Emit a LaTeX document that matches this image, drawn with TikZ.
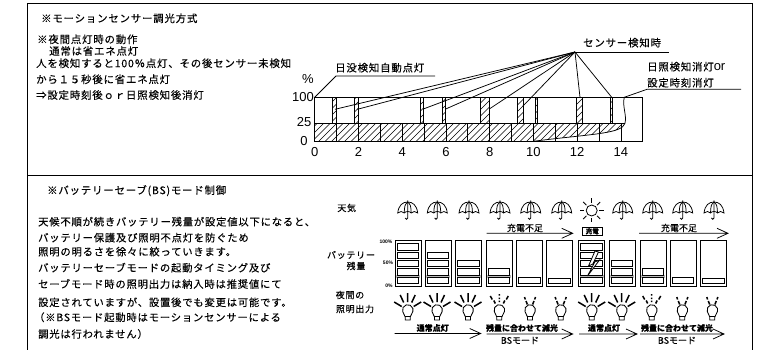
\documentclass[tikz,border=0pt]{standalone}
\usepackage{fontspec}
\newfontfamily\jp[LetterSpace=8,FakeBold=0.25]{Noto Sans CJK JP}
\newfontfamily\jpt[FakeBold=0.2]{Noto Sans CJK JP}
\newfontfamily\latn{Liberation Sans}
\tikzset{
  frameline/.style={line width=1pt,black},
  thin line/.style={line width=0.75pt,black},
  hatchline/.style={line width=0.7pt,black},
  body/.style={anchor=west,inner sep=0pt,font=\jp\fontsize{10.4}{12}\selectfont},
  lower/.style={anchor=west,inner sep=0pt,font=\jp\fontsize{10.3}{12}\selectfont},
  axis/.style={inner sep=0pt,font=\latn\fontsize{13}{14}\selectfont},
  tiny/.style={inner sep=0pt,font=\jpt\bfseries\fontsize{8}{9}\selectfont},
  tinypct/.style={inner sep=0pt,font=\latn\bfseries\fontsize{5}{6}\selectfont},
  side/.style={inner sep=0pt,font=\jp\fontsize{9}{11}\selectfont},
  openarrow/.style={line width=0.75pt,black},
  umbrella/.pic={
    \draw[line width=0.75pt] (-10,11) .. controls (-9,3) and (-5,0) .. (0,0) .. controls (5,0) and (9,3) .. (10,11)
      .. controls (8,9) and (5,9) .. (3.5,11) .. controls (2,9) and (-2,9) .. (-3.5,11)
      .. controls (-5,9) and (-8,9) .. cycle;
    \draw[line width=0.75pt] (0,0) .. controls (-3,3) .. (-3.5,11) (0,0) .. controls (3,3) .. (3.5,11);
    \draw[line width=0.85pt] (0,-1.5) -- (0,16) arc[start angle=0,end angle=180,radius=1.3];
  },
  bulb/.pic={
    \draw[line width=0.85pt] (-2.5,10) -- (-2.5,7) -- (-5,1.5) arc[start angle=163,end angle=377,radius=5.3] -- (2.5,7) -- (2.5,10) -- cycle;
    \draw[line width=0.85pt] (-3,6.5) -- (3,6.5);
  },
  ray/.style={line width=1.5pt,line cap=butt},
  fullrays/.pic={
    \draw[ray] (0,-17)--(0,-8) (-7.5,-15)--(-4,-7.5) (7.5,-15)--(4,-7.5) (-13.5,-8)--(-6,-3.5) (13.5,-8)--(6,-3.5);
  },
  midrays/.pic={
    \draw[ray] (0,-16)--(0,-14.5) (0,-12.5)--(0,-11) (0,-9.5)--(0,-8) (-9,-14)--(-7,-10.5) (-5.5,-9.5)--(-4,-6.5) (9,-14)--(7,-10.5) (5.5,-9.5)--(4,-6.5);
  },
  lowrays/.pic={
    \draw[ray] (-5.5,-13)--(-4.7,-10.5) (-4,-9)--(-2.6,-5.5) (5.5,-13)--(4.7,-10.5) (4,-9)--(2.6,-5.5);
  },
}
\newcommand{\hatchin}[1]{\begin{scope}\clip #1;
  \foreach \k in {0,...,60} \draw[hatchline] ({262+6.5*\k},146) -- ({262+6.5*\k+52},94);
  \end{scope}}
\newcommand{\barat}[2]{\hatchin{(#1,97.3) rectangle (#2,123.3)}
  \draw[thin line] (#1,97.3) -- (#1,123.3) (#2,97.3) -- (#2,123.3);}
\newcommand{\cell}[3]{\draw[line width=0.7pt,fill=white] (#1+2,#2) rectangle (#1+23.5,#3);}
\newcommand{\battery}[2]{%
  \draw[line width=0.9pt] (#1,240.7) rectangle ++(26,46);
  \ifnum#2>1 \fill[gray!55] (#1+1,275) rectangle (#1+25,277.5);\fi
  \ifnum#2=0 \cell{#1}{278.7}{283.3}\fi
  \ifnum#2>0 \cell{#1}{277.3}{283.3}\fi
  \ifnum#2>1 \cell{#1}{268.3}{275.2}\fi
  \ifnum#2>2 \cell{#1}{260.3}{266.3}\fi
  \ifnum#2>3 \cell{#1}{252.3}{258.3}\fi
  \ifnum#2>4 \cell{#1}{243.3}{250}\fi
}
\begin{document}
\begin{tikzpicture}[x=1pt,y=-1pt]
\useasboundingbox (0,0) rectangle (772,350);
% frame
\draw[frameline] (27.5,350) -- (27.5,3.5) -- (752.5,3.5) -- (752.5,350);
\draw[frameline] (27.5,176) -- (752.5,176);
% upper text
\node[body] (t1) at (41,18.3) {※モーションセンサー調光方式};
\node[body] (t2) at (37,39.3) {※夜間点灯時の動作};
\node[body] (t3) at (49,51) {通常は省エネ点灯};
\node[body] (t4) at (36,63.3) {人を検知すると100％点灯、その後センサー未検知};
\node[body] (t5) at (36,79.3) {から１５秒後に省エネ点灯};
\node[body] (t6) at (36,95) {⇒設定時刻後ｏｒ日照検知後消灯};
% chart fill
\hatchin{(314.7,123.3) -- (625,123.3) .. controls (622,134) and (590,134) .. (533.3,141.3) -- (314.7,141.3) -- cycle}
\barat{332.7}{336}
\barat{354.7}{358.3}
\barat{420.3}{423.7}
\barat{442.7}{445.7}
\barat{480.7}{489.3}
\barat{517.7}{523.3}
\barat{535.3}{537.3}
\barat{576.7}{582.7}
\barat{610.3}{612.7}
\draw[thin line] (314.7,97.3) rectangle (642.7,141.3);
\draw[thin line] (314.7,123.3) -- (625,123.3);
\draw[thin line] (533.3,141.3) .. controls (590,134) and (622,134) .. (625,123.3)
  .. controls (627,115) and (622,106) .. (624.3,97.3);
\foreach \h in {1,...,14} \draw[thin line] ({314.7+21.87*\h},123.3) -- ({314.7+21.87*\h},141.3);
% axis labels
\node[axis] (pct) at (308,79) {\%};
\node[axis] (y100) at (303,96.7) {100};
\node[axis] (y25) at (304,122) {25};
\node[axis] (y0) at (304,140.7) {0};
\foreach \h in {0,2,...,14} \node[axis] (x\h) at ({314.7+21.87*\h},151.7) {\h};
% sensor
\node[body] (sens) at (583,42.7) {センサー検知時};
\coordinate (apex) at (575,52);
\coordinate (sensend) at (669,52);
\draw[thin line] (apex) -- (sensend);
\foreach \n/\a/\b in {a/335/109.3,b/357.3/109.3,c/423.3/109,d/445.7/109,e/489.3/109,f/523/106,g/580/97.3,h/611.7/97.3} {
  \coordinate (s\n) at (\a,\b);
  \draw[thin line] (apex) -- (s\n);
}
\node[body] (dusk) at (335,67.7) {日没検知自動点灯};
\coordinate (duskA) at (314.7,97.3);
\coordinate (duskB) at (336,76);
\coordinate (duskC) at (435,76);
\draw[thin line] (duskA) -- (duskB) -- (duskC);
\node[body] (dawn) at (647,66.7) {日照検知消灯{\latn\fontsize{13}{14}\selectfont or}};
\node[body] (time) at (647,82.7) {設定時刻消灯};
\coordinate (dawnA) at (624.3,97.3);
\coordinate (dawnB) at (647,89.3);
\coordinate (dawnC) at (741,89.3);
\draw[thin line] (dawnA) -- (dawnB) -- (dawnC);
% lower text
\node[body] (b0) at (47,190.7) {※バッテリーセーブ(BS)モード制御};
\node[lower] (b1) at (38,221.7) {天候不順が続きバッテリー残量が設定値以下になると、};
\node[lower] (b2) at (38,237.7) {バッテリー保護及び照明不点灯を防ぐため};
\node[lower] (b3) at (38,251.7) {照明の明るさを徐々に絞っていきます。};
\node[lower] (b4) at (38,267.7) {バッテリーセーブモードの起動タイミング及び};
\node[lower] (b5) at (38,284) {セーブモード時の照明出力は納入時は推奨値にて};
\node[lower] (b6) at (38,302.3) {設定されていますが、設置後でも変更は可能です。};
\node[lower] (b7) at (34,317.3) {（※BSモード起動時はモーションセンサーによる};
\node[lower] (b8) at (38,334) {調光は行われません）};
% side labels
\node[side] (w1) at (346.7,208) {天気};
\node[side] (w2) at (351,255) {バッテリー};
\node[side] (w3) at (356,266) {残量};
\node[side] (w4) at (350,295) {夜間の};
\node[side] (w5) at (355,309) {照明出力};
\node[tinypct] (p100) at (386,241.5) {100\%};
\node[tinypct] (p50) at (388,263) {50\%};
\node[tinypct] (p0) at (389,286) {0\%};
% weather
\foreach \x in {407.7,437.3,469,500,530.7,561.7,622.7,652.7,682.7,714}
  \pic at (\x,202) {umbrella};
\draw[line width=0.8pt] (591.7,210.5) circle[radius=5.5];
\foreach \a in {0,45,...,315}
  \draw[line width=0.8pt] ([shift={(\a:7.5)}]591.7,210.5) -- ([shift={(\a:12)}]591.7,210.5);
% batteries
\battery{395.3}{5}
\battery{425.3}{4}
\battery{455.5}{3}
\battery{486}{2}
\battery{516.7}{1}
\battery{546.7}{0}
\battery{578.7}{5}
\battery{609}{3}
\battery{640}{2}
\battery{670}{1}
\battery{700.7}{0}
\draw[line width=0.8pt,fill=white] (595,251) -- (588.5,266) -- (594,263.5) -- (587.5,276) -- (599.5,260) -- (593.5,262.5) -- (598.5,252) -- cycle;
% bulbs
\foreach \x/\k in {407.7/fullrays,437/fullrays,468/fullrays,499.3/midrays,530/lowrays,560.7/lowrays,591.7/fullrays,621.7/fullrays,651.7/midrays,682.3/lowrays,712.3/lowrays} {
  \pic at (\x,310) {bulb};
  \pic at (\x,310) {\k};
}
% charging arrows
\coordinate (c1a) at (486.7,233.3); \coordinate (c1b) at (572.7,233.3);
\coordinate (c2a) at (639,233.3); \coordinate (c2b) at (728,233.3);
\draw[openarrow] (c1a) -- (c1b) ++(-11,-5) -- (c1b) -- ++(-11,5);
\draw[openarrow] (c2a) -- (c2b) ++(-11,-5) -- (c2b) -- ++(-11,5);
\node[tiny,font=\jpt\fontsize{9}{10}\selectfont] (l1) at (525,228) {充電不足};
\node[tiny,font=\jpt\fontsize{9}{10}\selectfont] (l2) at (679,228) {充電不足};
\node[tiny,draw,line width=0.8pt,minimum width=20.5pt,minimum height=8pt,font=\jpt\bfseries\fontsize{6.5}{7}\selectfont] (chg) at (592.3,231.3) {充電};
% mode arrows
\coordinate (m1a) at (394.7,333.5); \coordinate (m1b) at (480.7,333.5);
\coordinate (m2a) at (486.7,334); \coordinate (m2b) at (572.7,334);
\coordinate (m3a) at (579,334); \coordinate (m3b) at (637,334);
\coordinate (m4a) at (640,334); \coordinate (m4b) at (724,334);
\draw[openarrow] (m1a) -- (m1b) ++(-11,-5) -- (m1b) -- ++(-11,5);
\draw[openarrow] (m2a) -- (m2b) ++(-11,-5) -- (m2b) -- ++(-11,5);
\draw[openarrow] (m3a) -- (m3b) ++(-11,-5) -- (m3b) -- ++(-11,5);
\draw[openarrow] (m4a) -- (m4b) ++(-11,-5) -- (m4b) -- ++(-11,5);
\node[tiny] (n1) at (432.7,328) {通常点灯};
\node[tiny] (n2) at (522,328) {残量に合わせて減光};
\node[tiny] (n3) at (604,328) {通常点灯};
\node[tiny] (n4) at (677,328) {残量に合わせて減光};
\node[tiny,font=\jpt\fontsize{9}{10}\selectfont] (n5) at (520,340.5) {BSモード};
\node[tiny,font=\jpt\fontsize{9}{10}\selectfont] (n6) at (677,340.5) {BSモード};
\end{tikzpicture}
\end{document}
